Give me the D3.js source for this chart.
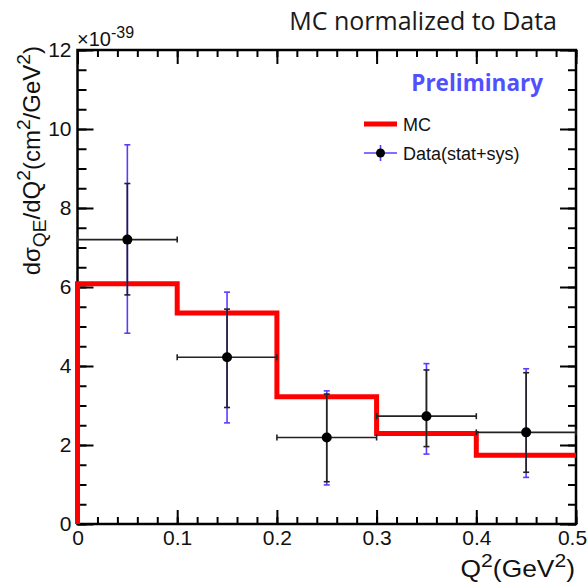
<!DOCTYPE html>
<html>
<head>
<meta charset="utf-8">
<script src="https://cdn.jsdelivr.net/npm/d3@7"></script>
<style>
  body { margin: 0; background: #fff; }
  svg text { font-family: "Liberation Sans", Arial, sans-serif; fill: #111; }
  .axis path, .axis line { stroke: #000; }
</style>
</head>
<body>
<div id="chart"></div>
<script>
"use strict";

// MC histogram bins (Q2 edges) and heights, units of 1e-39 cm2/GeV2
const binEdges = [0, 0.1, 0.2, 0.3, 0.4, 0.5];
const mcValues = [6.08, 5.34, 3.22, 2.29, 1.74];

// Data points with stat and total (stat+sys) error bands
const dataQ2 = [0.05, 0.15, 0.25, 0.35, 0.45];
const dataXErr = [0.05, 0.05, 0.05, 0.05, 0.05];
const dataY = [7.2, 4.22, 2.19, 2.73, 2.32];
const statHigh = [8.62, 5.44, 3.29, 3.90, 3.83];
const statLow = [5.80, 2.95, 1.07, 1.96, 1.31];
const totHigh = [9.60, 5.87, 3.37, 4.06, 3.93];
const totLow = [4.83, 2.56, 0.99, 1.77, 1.18];

const xTicks = [0, 0.1, 0.2, 0.3, 0.4, 0.5];
const yTicks = [0, 2, 4, 6, 8, 10, 12];

const W = 588, H = 582;
const margin = {top: 50, right: 12, bottom: 58, left: 77.5};
const width = W - margin.left - margin.right;
const height = H - margin.top - margin.bottom;

const svg = d3.select("#chart").append("svg")
  .attr("width", W).attr("height", H);

const g = svg.append("g")
  .attr("transform", `translate(${margin.left},${margin.top})`);

const x = d3.scaleLinear().domain([0, 0.5]).range([0, width]);
const y = d3.scaleLinear().domain([0, 12]).range([height, 0]);

const minorX = d3.range(0, 0.5001, 0.02);
const minorY = d3.range(0, 12.001, 0.5);

// minor ticks (no labels) then major ticks with labels
function drawAxis(axisFn, scale, ticks, size, fmt, transform, cls) {
  const a = g.append("g").attr("class", "axis " + cls)
    .attr("transform", transform)
    .call(axisFn(scale).tickValues(ticks).tickSize(size).tickPadding(6).tickFormat(fmt));
  a.selectAll("line").attr("stroke-width", 2);
  a.select(".domain").remove();
  return a;
}

drawAxis(d3.axisBottom, x, minorX, -7, "", `translate(0,${height})`, "xminor");
drawAxis(d3.axisTop, x, minorX, -7, "", "translate(0,0)", "xminorTop");
drawAxis(d3.axisLeft, y, minorY, -9, "", "translate(0,0)", "yminor");
drawAxis(d3.axisRight, y, minorY, -8, "", `translate(${width},0)`, "yminorRight");

const xAxisG = drawAxis(d3.axisBottom, x, xTicks, -14, d => d === 0 ? "0" : d3.format(".1f")(d), `translate(0,${height})`, "xAxis");
xAxisG.selectAll("text").style("font-size", "21px").attr("fill", "#111");
// last label sits at the frame edge; keep it inside the picture
xAxisG.selectAll("text").filter(d => d === 0.5).attr("x", -4);
drawAxis(d3.axisTop, x, xTicks, -14, "", "translate(0,0)", "xAxisTop");
const yAxisG = drawAxis(d3.axisLeft, y, yTicks, -16, d3.format("d"), "translate(0,0)", "yAxis");
yAxisG.selectAll("text").style("font-size", "21px").attr("fill", "#111");
drawAxis(d3.axisRight, y, yTicks, -16, "", `translate(${width},0)`, "yAxisRight");

// frame
g.append("rect")
  .attr("x", 0).attr("y", 0)
  .attr("width", width).attr("height", height)
  .attr("fill", "none").attr("stroke", "#000").attr("stroke-width", 2.5);

// MC step histogram
const mcLine = d3.line().x(d => x(d[0])).y(d => y(d[1]));
let mcPts = [[binEdges[0], 0]];
mcValues.forEach((v, i) => {
  mcPts.push([binEdges[i], v]);
  mcPts.push([binEdges[i + 1], v]);
});
g.append("path")
  .attr("d", mcLine(mcPts))
  .attr("fill", "none")
  .attr("stroke", "#ff0000")
  .attr("stroke-width", 5)
  .attr("stroke-linejoin", "miter");

// data points
const pts = dataQ2.map((q, i) => ({
  q: q, ex: dataXErr[i], v: dataY[i],
  sH: statHigh[i], sL: statLow[i], tH: totHigh[i], tL: totLow[i]
}));
const purple = "#5b3cff";
const cap = 3;

pts.forEach(p => {
  const cx = x(p.q);
  // total error (stat+sys)
  g.append("line").attr("x1", cx).attr("x2", cx)
    .attr("y1", y(p.tH)).attr("y2", y(p.tL))
    .attr("stroke", purple).attr("stroke-width", 1.6);
  [p.tH, p.tL].forEach(v => g.append("line")
    .attr("x1", cx - cap).attr("x2", cx + cap).attr("y1", y(v)).attr("y2", y(v))
    .attr("stroke", purple).attr("stroke-width", 1.6));
  // stat error
  g.append("line").attr("x1", cx).attr("x2", cx)
    .attr("y1", y(p.sH)).attr("y2", y(p.sL))
    .attr("stroke", "#222").attr("stroke-width", 1.6);
  [p.sH, p.sL].forEach(v => g.append("line")
    .attr("x1", cx - cap).attr("x2", cx + cap).attr("y1", y(v)).attr("y2", y(v))
    .attr("stroke", "#222").attr("stroke-width", 1.6));
  // x error
  g.append("line").attr("x1", x(p.q - p.ex)).attr("x2", x(p.q + p.ex))
    .attr("y1", y(p.v)).attr("y2", y(p.v))
    .attr("stroke", "#222").attr("stroke-width", 1.6);
  [p.q - p.ex, p.q + p.ex].forEach(v => g.append("line")
    .attr("x1", x(v)).attr("x2", x(v)).attr("y1", y(p.v) - cap).attr("y2", y(p.v) + cap)
    .attr("stroke", "#222").attr("stroke-width", 1.6));
  g.append("circle").attr("cx", cx).attr("cy", y(p.v)).attr("r", 5).attr("fill", "#000");
});

// rich text helper: parts = [text, "n"|"sup"|"sub"]
function richText(sel, parts, size, small) {
  let shift = 0;
  parts.forEach(([t, kind]) => {
    let target = kind === "sup" ? -0.42 * size : kind === "sub" ? 0.25 * size : 0;
    sel.append("tspan")
      .attr("dy", target - shift)
      .style("font-size", (kind === "n" ? size : size * small) + "px")
      .text(t);
    shift = target;
  });
}

// y-axis exponent
const expo = svg.append("text").attr("x", 77).attr("y", 46).style("font-size", "20px");
richText(expo, [["\u00d710", "n"], ["-39", "sup"]], 20, 0.8);

// y-axis label
const yLab = svg.append("text")
  .attr("transform", "translate(40,46) rotate(-90)")
  .attr("text-anchor", "end")
  .style("font-size", "24px");
richText(yLab, [["d\u03c3", "n"], ["QE", "sub"], ["/dQ", "n"], ["2", "sup"], ["(cm", "n"],
  ["2", "sup"], ["/GeV", "n"], ["2", "sup"], [")", "n"]], 24, 0.8);

// x-axis label
const xLab = svg.append("text")
  .attr("transform", "translate(575,577) scale(1.1,1)")
  .attr("text-anchor", "end")
  .style("font-size", "24px");
richText(xLab, [["Q", "n"], ["2", "sup"], ["(GeV", "n"], ["2", "sup"], [")", "n"]], 24, 0.8);

// title
svg.append("text")
  .attr("x", 557).attr("y", 30)
  .attr("text-anchor", "end")
  .style("font-family", "'Open Sans', Lato, sans-serif")
  .style("font-size", "25px")
  .style("fill", "#1a1a1a")
  .text("MC normalized to Data");

svg.append("text")
  .attr("x", 543).attr("y", 91)
  .attr("text-anchor", "end")
  .style("font-family", "'Open Sans', Lato, sans-serif")
  .style("font-weight", "bold")
  .style("font-size", "22.5px")
  .style("fill", "#5050ff")
  .text("Preliminary");

// legend
const leg = svg.append("g");
leg.append("line").attr("x1", 364).attr("x2", 397).attr("y1", 124).attr("y2", 124)
  .attr("stroke", "#ff0000").attr("stroke-width", 5);
leg.append("text").attr("x", 403).attr("y", 131).style("font-size", "18px").text("MC");
leg.append("line").attr("x1", 364).attr("x2", 397).attr("y1", 153).attr("y2", 153)
  .attr("stroke", purple).attr("stroke-width", 1.6);
leg.append("line").attr("x1", 380.5).attr("x2", 380.5).attr("y1", 145).attr("y2", 161)
  .attr("stroke", purple).attr("stroke-width", 1.6);
leg.append("circle").attr("cx", 380.5).attr("cy", 153).attr("r", 4.5).attr("fill", "#000");
leg.append("text").attr("x", 403).attr("y", 160).style("font-size", "18px").text("Data(stat+sys)");
</script>
</body>
</html>
